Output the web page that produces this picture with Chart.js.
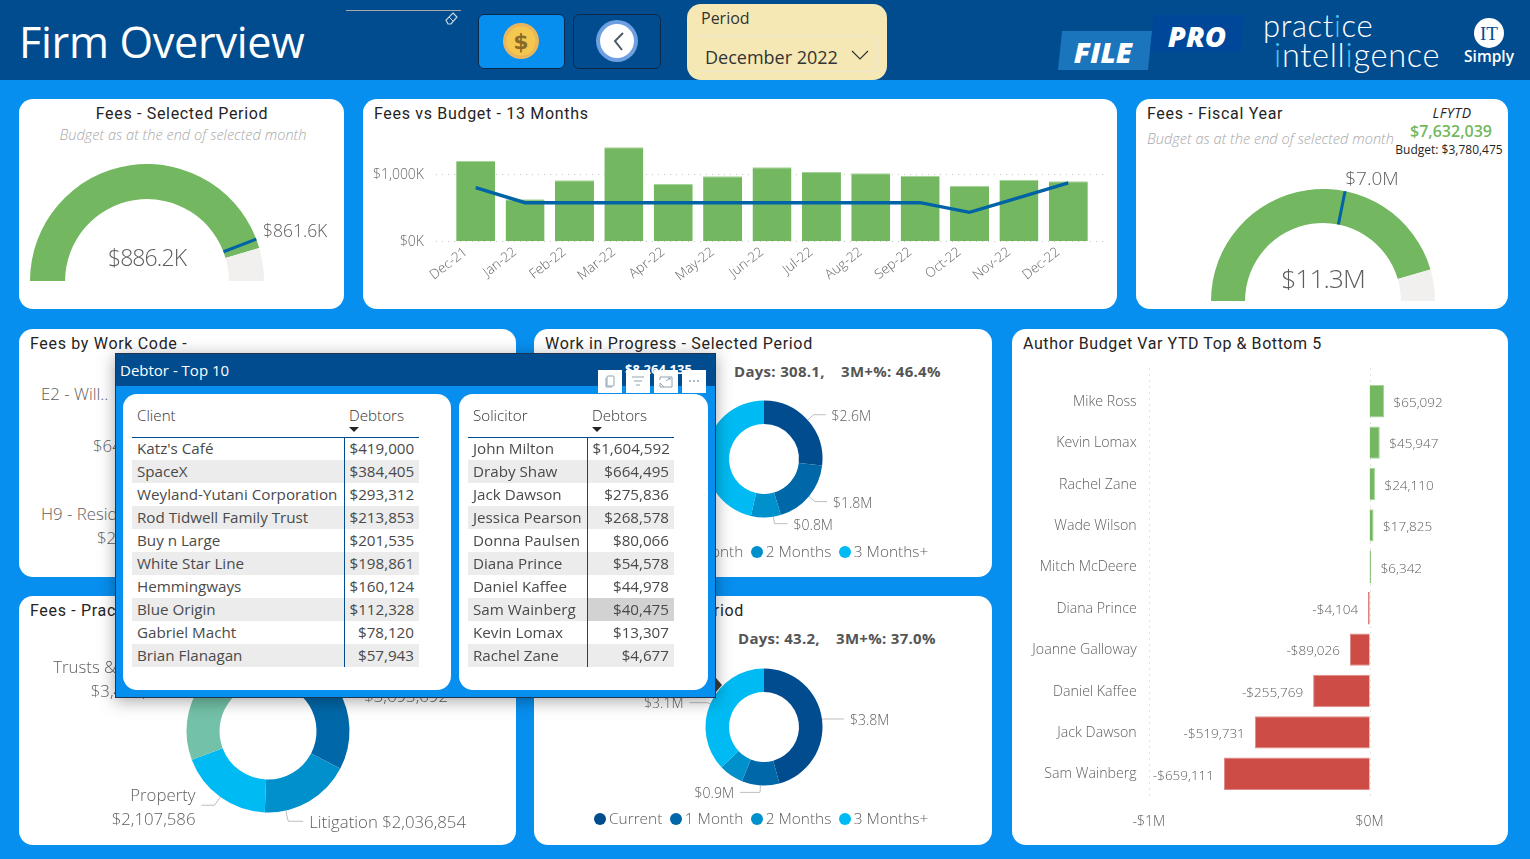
<!DOCTYPE html>
<html>
<head>
<meta charset="utf-8">
<title>Firm Overview</title>
<script src="https://cdn.jsdelivr.net/npm/chart.js@4"></script>
<style>
html, body { margin: 0; padding: 0; width: 1530px; height: 859px; overflow: hidden; background: #078FEF; font-family: "Open Sans", sans-serif; color: #605E5C; }
.box, .t, canvas, table { position: absolute; }
.card { background: #fff; border-radius: 14px; }
.t { white-space: nowrap; line-height: 1; transform: translateY(-50%); }
.t.c { transform: translate(-50%, -50%); }
.t.r { transform: translate(-100%, -50%); }
.title { font-family: Roboto, sans-serif; font-size: 16px; letter-spacing: .68px; color: #252423; margin-top: 1px; }
.sub { font-size: 14.6px; font-style: italic; font-weight: 300; color: #A8A8A8; }
.val { font-weight: 300; color: #605E5C; }
.lbl { font-size: 16.8px; font-weight: 300; color: #605E5C; }
.kpi { font-size: 15px; font-weight: 700; color: #555; letter-spacing: .3px; }
.legend { position: absolute; display: flex; align-items: center; font-size: 15.4px; font-weight: 300; color: #605E5C; line-height: 1; }
.legend i { display: inline-block; width: 12px; height: 12px; border-radius: 50%; margin: 0 3px 0 7.5px; }
.legend i:first-child { margin-left: 0; }
table { border-collapse: collapse; table-layout: fixed; font-size: 15.2px; color: #4A4A4A; font-weight: 400; }
th { height: 34px; padding: 3px 0 0 5px; box-sizing: border-box; vertical-align: top; text-align: left; font-weight: 300; font-size: 15.2px; line-height: 18px; color: #333; border-bottom: 1.5px solid #004C8E; }
th .sort { width: 0; height: 0; border-left: 5px solid transparent; border-right: 5px solid transparent; border-top: 5px solid #252423; margin-top: 3px; }
td { height: 23px; padding: 0 5px 1px; box-sizing: border-box; overflow: hidden; white-space: nowrap; }
td.n { text-align: right; }
td:first-child { border-right: 1px solid #004C8E; }
tr.odd td { background: #ECECEC; }
td.hi { background: #D2D2D2 !important; }
</style>
</head>
<body>

<!-- header band -->
<div class="box" style="left:0;top:0;width:1530px;height:80px;background:#004C8E"></div>
<div class="t" style="left:19px;top:42px;font-size:43.2px;color:#fff;font-weight:400;letter-spacing:-.3px">Firm Overview</div>
<div class="box" style="left:346px;top:10px;width:115px;height:1px;background:#A9A9A9"></div>
<svg class="box" style="left:444px;top:11px" width="15" height="15" viewBox="0 0 15 15"><path d="M9 2l4 4-6 7H4L2 9z" fill="none" stroke="#C9D6E2" stroke-width="1.2"/><path d="M5 6l4 4" stroke="#C9D6E2"/></svg>

<div class="box" style="left:478px;top:14px;width:85px;height:53px;background:#078FEF;border:1.5px solid #0B2A4A;border-radius:6px"></div>
<svg class="box" style="left:502px;top:22px" width="38" height="38" viewBox="0 0 38 38"><circle cx="19" cy="19" r="18" fill="#E9B65C"/><circle cx="19" cy="19" r="14.5" fill="#F4C84F"/><text x="19" y="27" text-anchor="middle" font-family="DejaVu Sans" font-weight="bold" font-size="22" fill="#8A6A2A">$</text></svg>
<div class="box" style="left:573px;top:14px;width:86px;height:53px;background:#004C8E;border:1.5px solid #0B2A4A;border-radius:6px"></div>
<svg class="box" style="left:595px;top:19px" width="44" height="44" viewBox="0 0 44 44"><circle cx="22" cy="22" r="21" fill="#6E9FE0"/><circle cx="22" cy="22" r="17" fill="#fff"/><path d="M28 14l-8 8 7 9" fill="none" stroke="#4C5A68" stroke-width="2"/></svg>

<div class="box" style="left:687px;top:4px;width:200px;height:76px;background:#F5E8B5;border-radius:14px"></div>
<div class="t" style="left:701px;top:18px;font-size:16px;color:#333">Period</div>
<div class="box" style="left:697px;top:36px;width:178px;height:34px;border:1px solid #ECE6CF"></div>
<div class="t" style="left:705px;top:57px;font-size:18px;color:#333">December 2022</div>
<svg class="box" style="left:851px;top:49px" width="18" height="12" viewBox="0 0 18 12"><path d="M1 2l8 8 8-8" fill="none" stroke="#333" stroke-width="1.2"/></svg>

<div class="box" style="left:1060px;top:31px;width:90px;height:39px;background:#1B75BC;transform:skewX(-6deg)"></div>
<div class="t c" style="left:1103px;top:51px;font-size:29px;font-weight:800;font-style:italic;color:#fff">FILE</div>
<div class="box" style="left:1152px;top:15px;width:90px;height:37px;background:#00479A;transform:skewX(-6deg)"></div>
<div class="t c" style="left:1197px;top:35px;font-size:29px;font-weight:800;font-style:italic;color:#fff">PRO</div>
<div class="t" style="left:1263px;top:25px;font-size:31px;font-weight:300;letter-spacing:.6px;color:#fff;font-family:Lato,sans-serif">pract<span style="color:#49C4F2">i</span>ce</div>
<div class="t" style="left:1274px;top:55px;font-size:32.5px;font-weight:300;letter-spacing:.7px;color:#fff;font-family:Lato,sans-serif"><span style="color:#49C4F2">i</span>ntell<span style="color:#49C4F2">i</span>gence</div>
<div class="box" style="left:1474px;top:18px;width:30px;height:30px;border-radius:50%;background:#fff"></div>
<div class="t c" style="left:1489px;top:33px;font-size:19px;font-family:'Liberation Serif',serif;color:#004C8E">IT</div>
<div class="t c" style="left:1489px;top:57px;font-size:15.5px;font-weight:600;color:#fff">Simply</div>

<!-- top row -->
<div class="box card" style="left:19px;top:99px;width:325px;height:210px"></div>
<div class="t c title" style="left:182px;top:113px">Fees - Selected Period</div>
<div class="t c sub" style="left:183px;top:134px">Budget as at the end of selected month</div>
<canvas id="gaugePeriod" width="234" height="117" style="left:30px;top:164px"></canvas>
<div class="t c val" style="left:147px;top:257px;font-size:23px;letter-spacing:-.9px">$886.2K</div>
<div class="t val" style="left:263px;top:231px;font-size:17.5px">$861.6K</div>

<div class="box card" style="left:363px;top:99px;width:754px;height:210px"></div>
<div class="t title" style="left:374px;top:113px">Fees vs Budget - 13 Months</div>
<canvas id="feesBudget" width="754" height="210" style="left:363px;top:99px"></canvas>

<div class="box card" style="left:1136px;top:99px;width:372px;height:210px"></div>
<div class="t title" style="left:1147px;top:113px">Fees - Fiscal Year</div>
<div class="t sub" style="left:1147px;top:138px">Budget as at the end of selected month</div>
<div class="t c" style="left:1452px;top:113px;font-size:14px;font-style:italic;letter-spacing:.4px;color:#252423">LFYTD</div>
<div class="t c" style="left:1451px;top:131px;font-size:16px;font-weight:600;color:#73B761">$7,632,039</div>
<div class="t c" style="left:1449px;top:150px;font-size:12px;color:#252423">Budget: $3,780,475</div>
<canvas id="gaugeFiscal" width="224" height="112" style="left:1211px;top:189px"></canvas>
<div class="t c val" style="left:1323px;top:278px;font-size:26.5px;letter-spacing:-1px">$11.3M</div>
<div class="t c val" style="left:1372px;top:178px;font-size:19px">$7.0M</div>

<!-- middle and bottom cards -->
<div class="box card" style="left:19px;top:329px;width:497px;height:248px"></div>
<div class="t title" style="left:30px;top:343px">Fees by Work Code -</div>
<div class="t lbl" style="left:41px;top:394px">E2 - Will..</div>
<div class="t lbl" style="left:93px;top:446px">$640,000</div>
<div class="t lbl" style="left:41px;top:514px">H9 - Residential</div>
<div class="t lbl" style="left:97px;top:538px">$260,000</div>

<div class="box card" style="left:534px;top:329px;width:458px;height:248px"></div>
<div class="t title" style="left:545px;top:343px">Work in Progress - Selected Period</div>
<div class="t kpi" style="left:734px;top:371px">Days: 308.1,</div>
<div class="t kpi" style="left:841px;top:371px">3M+%: 46.4%</div>
<canvas id="wipDonut" width="400" height="200" style="left:564px;top:359px"></canvas>
<div class="legend" id="wipLegend" style="left:594px;top:544px"></div>

<div class="box card" style="left:19px;top:596px;width:497px;height:249px"></div>
<div class="t title" style="left:30px;top:610px">Fees - Practice Area</div>
<canvas id="practiceDonut" width="480" height="240" style="left:28px;top:611px"></canvas>

<div class="box card" style="left:534px;top:596px;width:458px;height:249px"></div>
<div class="t r title" style="left:744px;top:610px">Debtors - Selected Period</div>
<div class="t kpi" style="left:738px;top:638px">Days: 43.2,</div>
<div class="t kpi" style="left:836px;top:638px">3M+%: 37.0%</div>
<canvas id="debtorDonut" width="400" height="200" style="left:564px;top:627px"></canvas>
<div class="legend" id="debtorLegend" style="left:594px;top:811px"></div>

<div class="box card" style="left:1012px;top:329px;width:496px;height:516px"></div>
<div class="t title" style="left:1023px;top:343px;letter-spacing:.58px">Author Budget Var YTD Top &amp; Bottom 5</div>
<canvas id="authorVar" width="496" height="516" style="left:1012px;top:329px"></canvas>

<!-- Debtor popup sits over everything -->
<div class="box" style="left:115px;top:353px;width:599px;height:343px;background:#078FEF;border:1px solid #1F3550;box-shadow:0 3px 16px rgba(0,0,0,.35)"></div>
<div class="box" style="left:116px;top:354px;width:599px;height:32px;background:#004C8E"></div>
<div class="t" style="left:120px;top:370px;font-size:15px;color:#fff">Debtor - Top 10</div>
<div class="t" style="left:625px;top:369px;font-size:13px;font-weight:700;color:#fff">$8,264,135</div>
<div class="box" style="left:716px;top:678px;width:0;height:0;border-top:7px solid transparent;border-bottom:7px solid transparent;border-left:6px solid #333"></div>
<div class="box card" style="left:123px;top:394px;width:328px;height:296px"></div>
<div class="box card" style="left:459px;top:394px;width:249px;height:296px"></div>
<table id="clientTable" style="left:132px;top:403px;width:287px"></table>
<table id="solicitorTable" style="left:468px;top:403px;width:206px"></table>

<svg class="box" style="left:598px;top:370px" width="108" height="23" viewBox="0 0 108 23">
  <rect x="0" y="0" width="24" height="23" fill="#fff"/><rect x="28" y="0" width="24" height="23" fill="#fff"/><rect x="56" y="0" width="24" height="23" fill="#fff"/><rect x="84" y="0" width="24" height="23" fill="#fff"/>
  <g fill="none" stroke="#8FA3B5" stroke-width="1">
    <rect x="9" y="6" width="7" height="10" rx="1"/><path d="M8 8v9h6"/>
    <path d="M34 7h12M36 11h8M38 15h4"/>
    <path d="M62 10V7h12v10h-8M62 13v4h4zM68 11l4-3M70 8h2v2"/>
  </g>
  <g fill="#8FA3B5"><circle cx="92" cy="11" r="1"/><circle cx="96" cy="11" r="1"/><circle cx="100" cy="11" r="1"/></g>
</svg>

<script>
// fees and budget, $K
const fbMonths = ['Dec-21','Jan-22','Feb-22','Mar-22','Apr-22','May-22','Jun-22','Jul-22','Aug-22','Sep-22','Oct-22','Nov-22','Dec-22'];
const fbFees = [1189,620,902,1392,847,961,1095,1025,1006,970,822,911,886.2];
const fbBudget = [792,569,569,569,569,569,569,569,569,569,426,645,861.6];
const fbTicks = [0,1000];

// gauges: value, target, top of the scale
const gaugePeriodValues = [886.2, 861.6, 975];
const gaugeFiscalValues = [11.3, 7.0, 12.43];

// ageing donuts, $M
const ageNames = ['Current','1 Month','2 Months','3 Months+'];
const wipValues = [2.6,1.8,0.8,4.5];
const wipLabels = [['$2.6M'],['$1.8M'],['$0.8M'],[]];
const debtorValues = [3.78,0.86,0.56,3.06];
const debtorLabels = [['$3.8M'],['$0.9M'],[],['$3.1M']];

// practice area fees
const practiceValues = [3693692,2036854,2107586,3480000];
const practiceLabels = [['$3,693,692'],['Litigation $2,036,854'],['Property','$2,107,586'],['Trusts & Estates','$3,480,000']];

// author variance
const authorNames = ['Mike Ross','Kevin Lomax','Rachel Zane','Wade Wilson','Mitch McDeere','Diana Prince','Joanne Galloway','Daniel Kaffee','Jack Dawson','Sam Wainberg'];
const authorVar = [65092,45947,24110,17825,6342,-4104,-89026,-255769,-519731,-659111];
const authorTicks = [-1000000,0];

// popup tables
const clientNames = ["Katz's Café",'SpaceX','Weyland-Yutani Corporation','Rod Tidwell Family Trust','Buy n Large','White Star Line','Hemmingways','Blue Origin','Gabriel Macht','Brian Flanagan'];
const clientDebtors = [419000,384405,293312,213853,201535,198861,160124,112328,78120,57943];
const solicitorNames = ['John Milton','Draby Shaw','Jack Dawson','Jessica Pearson','Donna Paulsen','Diana Prince','Daniel Kaffee','Sam Wainberg','Kevin Lomax','Rachel Zane'];
const solicitorDebtors = [1604592,664495,275836,268578,80066,54578,44978,40475,13307,4677];

const GREEN = '#73B761', RED = '#CD4C46', GREY_TXT = '#605E5C';
const ageColors = ['#004C8E','#0068A8','#0090CC','#00BBF3'];
Chart.defaults.font.family = '"Open Sans", sans-serif';
Chart.defaults.animation = false;
Chart.defaults.events = [];
Chart.defaults.responsive = false;
Chart.defaults.plugins.legend.display = false;
Chart.defaults.plugins.tooltip.enabled = false;

const money = v => (v < 0 ? '-$' : '$') + Math.abs(v).toLocaleString('en-US');

// blue tick across a gauge at the target value
const gaugeTarget = {
  id: 'gaugeTarget',
  afterDatasetsDraw(chart, args, opts) {
    const arc = chart.getDatasetMeta(0).data[0];
    const a = -Math.PI + Math.PI * opts.value / opts.max;
    const c = chart.ctx;
    c.save();
    c.strokeStyle = '#0063A6';
    c.lineWidth = opts.width;
    c.beginPath();
    c.moveTo(arc.x + Math.cos(a) * arc.innerRadius, arc.y + Math.sin(a) * arc.innerRadius);
    c.lineTo(arc.x + Math.cos(a) * arc.outerRadius, arc.y + Math.sin(a) * arc.outerRadius);
    c.stroke();
    c.restore();
  }
};

// dotted value gridlines that run a bit past the plot area
const dottedGrid = {
  id: 'dottedGrid',
  beforeDatasetsDraw(chart, args, opts) {
    const s = chart.scales[opts.axis], area = chart.chartArea, c = chart.ctx;
    c.save();
    c.strokeStyle = '#C8C6C4';
    c.setLineDash([1, 5]);
    c.lineWidth = 1;
    s.ticks.forEach(t => {
      const p = Math.round(s.getPixelForValue(t.value)) + .5;
      c.beginPath();
      if (s.isHorizontal()) { c.moveTo(p, area.top - opts.before); c.lineTo(p, area.bottom + opts.after); }
      else { c.moveTo(area.left - opts.before, p); c.lineTo(area.right + opts.after, p); }
      c.stroke();
    });
    c.restore();
  }
};

// value labels at the end of the horizontal bars
const barEndLabels = {
  id: 'barEndLabels',
  afterDatasetsDraw(chart) {
    const c = chart.ctx;
    c.save();
    c.font = '300 13.5px "Open Sans"';
    c.fillStyle = GREY_TXT;
    c.textBaseline = 'middle';
    chart.getDatasetMeta(0).data.forEach((bar, i) => {
      const v = authorVar[i];
      c.textAlign = v < 0 ? 'right' : 'left';
      c.fillText(money(v), bar.x + (v < 0 ? -10 : 9.5), bar.y + 2);
    });
    c.restore();
  }
};

// leader lines and labels around a donut
const donutLabels = {
  id: 'donutLabels',
  afterDatasetsDraw(chart, args, opts) {
    const c = chart.ctx;
    c.save();
    chart.getDatasetMeta(0).data.forEach((arc, i) => {
      const lines = opts.text[i];
      if (!lines.length) return;
      const along = opts.along ? opts.along[i] : .5;
      const a = arc.startAngle + (arc.endAngle - arc.startAngle) * along;
      const x0 = arc.x + Math.cos(a) * arc.outerRadius, y0 = arc.y + Math.sin(a) * arc.outerRadius;
      const x1 = arc.x + Math.cos(a) * (arc.outerRadius + opts.elbow[i]), y1 = arc.y + Math.sin(a) * (arc.outerRadius + opts.elbow[i]);
      const dir = opts.side ? opts.side[i] : (Math.cos(a) >= 0 ? 1 : -1);
      const x2 = x1 + dir * opts.run[i];
      c.strokeStyle = '#BDBDBD';
      c.lineWidth = 1;
      c.beginPath(); c.moveTo(x0, y0); c.lineTo(x1, y1); c.lineTo(x2, y1); c.stroke();
      c.font = opts.font;
      c.fillStyle = GREY_TXT;
      c.textAlign = dir > 0 ? 'left' : 'right';
      c.textBaseline = 'middle';
      const last = y1 + opts.shift[i];
      lines.forEach((l, n) => c.fillText(l, x2 + dir * 6, last - (lines.length - 1 - n) * opts.leading));
    });
    c.restore();
  }
};

function gauge(id, vals, lineWidth, cutout) {
  new Chart(document.getElementById(id), {
    type: 'doughnut',
    data: { datasets: [{ data: [vals[0], vals[2] - vals[0]], backgroundColor: [GREEN, '#F1F0EE'], borderWidth: 0 }] },
    options: {
      rotation: -90, circumference: 180, cutout: cutout,
      plugins: { gaugeTarget: { value: vals[1], max: vals[2], width: lineWidth } }
    },
    plugins: [gaugeTarget]
  });
}
gauge('gaugePeriod', gaugePeriodValues, 3, '70%');
gauge('gaugeFiscal', gaugeFiscalValues, 3, '69.6%');

new Chart(document.getElementById('feesBudget'), {
  data: {
    labels: fbMonths,
    datasets: [
      { type: 'line', data: fbBudget, borderColor: '#0063A6', borderWidth: 3.4, pointRadius: 0, tension: 0, order: 1 },
      { type: 'bar', data: fbFees, backgroundColor: GREEN, borderColor: '#A6D39A', borderWidth: { top: 1 }, barPercentage: .79, categoryPercentage: 1, order: 2 }
    ]
  },
  options: {
    layout: { padding: { left: 0, right: 24, top: 41, bottom: 0 } },
    scales: {
      x: {
        grid: { display: false }, border: { display: false },
        ticks: { color: '#666', font: { size: 13.5, weight: 300 }, minRotation: 38, maxRotation: 38, padding: -5, labelOffset: -10, autoSkip: false },
        afterFit(s) { s.height = 68; }
      },
      y: {
        min: 0, max: 1500,
        grid: { display: false }, border: { display: false },
        ticks: { color: '#666', font: { size: 14, weight: 300 }, padding: 19, labelOffset: 1, callback: v => '$' + v.toLocaleString('en-US') + 'K' },
        afterFit(s) { s.width = 88; },
        afterBuildTicks(s) { s.ticks = fbTicks.map(v => ({ value: v })); }
      }
    },
    plugins: { dottedGrid: { axis: 'y', before: 15, after: 11 } }
  },
  plugins: [dottedGrid]
});

new Chart(document.getElementById('authorVar'), {
  type: 'bar',
  data: {
    labels: authorNames,
    datasets: [{
      data: authorVar,
      backgroundColor: authorVar.map(v => v < 0 ? RED : GREEN),
      // pale edge on the wide bars only, the thin ones would wash out
      borderColor: authorVar.map(v => Math.abs(v) < 10000 ? (v < 0 ? RED : GREEN) : (v < 0 ? '#DE8A85' : '#A6D39A')),
      borderWidth: 1, minBarLength: 1.5, barPercentage: .783, categoryPercentage: 1
    }]
  },
  options: {
    indexAxis: 'y',
    layout: { padding: { left: 0, right: 50, top: 51.5, bottom: 0 } },
    scales: {
      x: {
        min: -1000000, max: 400000,
        grid: { display: false }, border: { display: false },
        ticks: { color: GREY_TXT, font: { size: 14, weight: 300 }, padding: 11, maxRotation: 0, callback: v => v === 0 ? '$0M' : '-$1M' },
        afterFit(s) { s.height = 50.5; },
        afterBuildTicks(s) { s.ticks = authorTicks.map(v => ({ value: v })); }
      },
      y: {
        grid: { display: false }, border: { display: false },
        ticks: { color: GREY_TXT, font: { size: 14.2, weight: 300 }, padding: 4, labelOffset: 0.5, autoSkip: false },
        afterFit(s) { s.width = 136.7; }
      }
    },
    plugins: { dottedGrid: { axis: 'x', before: 12, after: 6 } }
  },
  plugins: [dottedGrid, barEndLabels]
});

function donut(id, values, colors, radius, hole, labelOpts) {
  new Chart(document.getElementById(id), {
    type: 'doughnut',
    data: { datasets: [{ data: values, backgroundColor: colors, borderWidth: 0 }] },
    options: { radius: radius, cutout: hole, plugins: { donutLabels: labelOpts } },
    plugins: [donutLabels]
  });
}
donut('wipDonut', wipValues, ageColors, 58.5, '59.8%', { text: wipLabels, elbow: [8, 8, 7], run: [12, 12, 13], along: [.5, .5, .25], shift: [2, 2, 2, 0], font: '300 14px "Open Sans"', leading: 0 });
donut('debtorDonut', debtorValues, ageColors, 58.5, '59.8%', { text: debtorLabels, elbow: [2, 7, 0, 3], run: [20, 20, 0, 18], side: [1, -1, 1, -1], shift: [2, 2, 0, 1], font: '300 14px "Open Sans"', leading: 0 });
donut('practiceDonut', practiceValues, ['#0068A8', '#0090CC', '#00BBF3', '#73C1A8'], 81.5, '59.5%', { text: practiceLabels, elbow: [5, 11, 10, 10], run: [12, 15, 13, 5], along: [.55, .77, .5, .42], side: [1, 1, -1, -1], shift: [3, 2, 15, 1], font: '300 16.8px "Open Sans"', leading: 24 });

function legend(id) {
  document.getElementById(id).innerHTML = ageNames.map((n, i) => `<i style="background:${ageColors[i]}"></i>${n}`).join('');
}
legend('wipLegend');
legend('debtorLegend');

function fillTable(id, head, names, vals, w1, w2, hi) {
  const rows = names.map((n, i) => `<tr class="${i % 2 ? 'odd' : ''}"><td>${n}</td><td class="n ${i === hi ? 'hi' : ''}">${money(vals[i])}</td></tr>`).join('');
  document.getElementById(id).innerHTML =
    `<colgroup><col style="width:${w1}px"><col style="width:${w2}px"></colgroup>` +
    `<tr><th>${head}</th><th>Debtors<div class="sort"></div></th></tr>` + rows;
}
fillTable('clientTable', 'Client', clientNames, clientDebtors, 212, 75, -1);
fillTable('solicitorTable', 'Solicitor', solicitorNames, solicitorDebtors, 119, 87, 7);
</script>
</body>
</html>
